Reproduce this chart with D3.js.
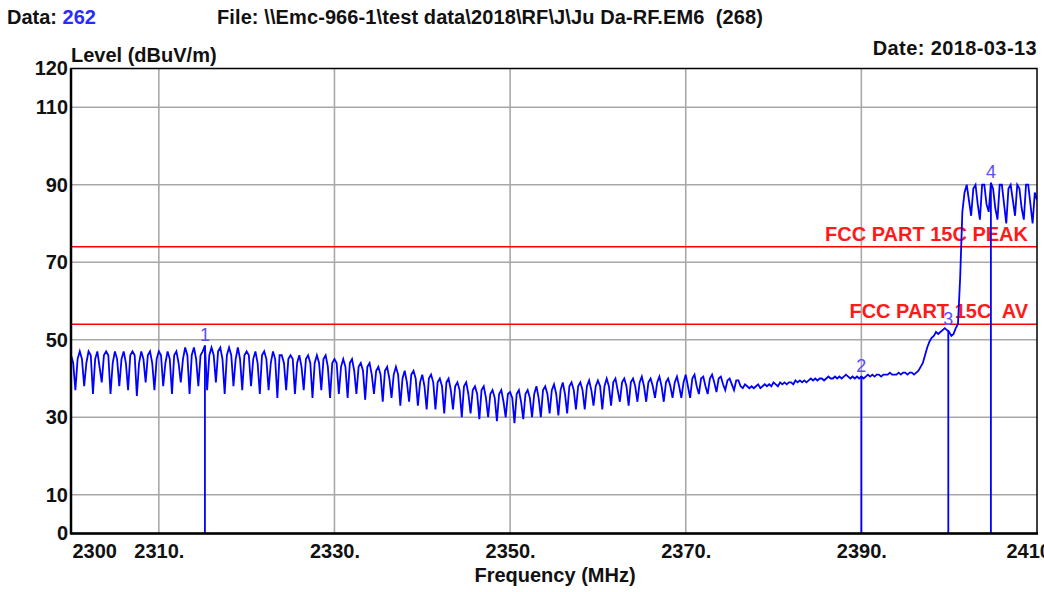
<!DOCTYPE html>
<html>
<head>
<meta charset="utf-8">
<script src="https://cdn.jsdelivr.net/npm/d3@7"></script>
<style>
  body { margin: 0; background: #fff; }
  svg { display: block; font-family: "Liberation Sans", Arial, sans-serif; }
  text { white-space: pre; }
</style>
</head>
<body>
<svg id="chart" width="1044" height="592"></svg>
<script>
// header texts
const dataCount = '262';
const fileName = 'File: \\\\Emc-966-1\\test data\\2018\\RF\\J\\Ju Da-RF.EM6  (268)';
const dateText = 'Date: 2018-03-13';
const yTitle = 'Level (dBuV/m)';
const xTitle = 'Frequency (MHz)';

// axes
const xTicks = [2300, 2310, 2330, 2350, 2370, 2390, 2410];
const yTicks = [0, 10, 30, 50, 70, 90, 110, 120];
const xGrid = [2310, 2330, 2350, 2370, 2390];
const yGrid = [10, 30, 50, 70, 90, 110];

// limit lines
const limitNames = ['FCC PART 15C PEAK', 'FCC PART 15C  AV'];
const limitLevels = [74, 54];

// markers
const markerNames = ['1', '2', '3', '4'];
const markerFreqs = [2315.25, 2390, 2399.9, 2404.75];
const markerLevels = [48.5, 40.5, 52.5, 90.5];

// trace, one row per MHz, 0.25 MHz apart, starting 2300 MHz
const startFreq = 2300;
const stepMHz = 0.25;
const levels = [
  46, 44, 37, 45,  47, 45, 38, 44,  47, 46, 36, 45,  47, 43, 39, 46,  47, 46, 36, 44,
  47, 45, 38, 45,  47, 44, 37, 46,  47, 46, 35.5, 44,  47, 45, 39, 46,  47, 44, 37, 45,
  47, 46, 38, 44,  47, 45, 36, 46,  47, 44, 39, 45,  48, 46, 36, 46,  48, 45, 38, 46,
  47, 48.5, 37, 46,  48, 46, 39, 47,  48, 45, 36, 46,  48, 46, 38, 45,  48, 45, 37, 46,
  47, 46, 38, 45,  47, 44, 36, 46,  47, 45, 37, 44,  47, 45, 35, 46,  46, 44, 37, 45,
  46, 45, 36, 44,  46, 43, 37, 45,  46, 44, 35, 44,  46, 44, 37, 45,  46, 43, 35, 44,
  45, 44, 36, 43,  45, 43, 35, 44,  45, 42, 36, 43,  44, 42, 34.5, 43,  44, 41, 36, 42,
  43, 41, 34, 42,  43, 40, 35, 41,  43, 41, 33, 40,  42, 39, 34, 41,  42, 40, 33, 39,
  41, 38, 32, 40,  41, 39, 32, 39,  40, 38, 31, 39,  40, 37, 32, 38,  39, 37, 30, 38,
  39, 36, 31, 37,  38, 36, 29.5, 37,  38, 35, 30, 36,  37, 35, 29, 36,  37, 34, 30, 36,
  36.5, 35, 28.5, 36,  37, 34, 29.5, 36,  37, 35, 30, 36,  38, 35, 30, 37,  38, 36, 31, 37,
  38.5, 36, 30.5, 37,  39, 36, 31, 38,  39, 37, 32, 38,  39, 37, 32, 38,  39.5, 37, 33, 38,
  39.5, 38, 32, 38,  40, 38, 33, 39,  40, 37, 34, 39,  40, 38, 33, 39,  40, 38, 34, 39,
  40.5, 38, 34, 39,  40, 38, 35, 39,  40.5, 38, 34, 39,  40, 38, 35, 39,  40.5, 38, 35, 39,
  41, 38, 35, 40,  41, 38, 36, 40,  40.5, 38, 36, 40,  41, 39, 36.5, 40,  40.5, 38.5, 37, 39.5,
  40, 38.5, 37, 39.5,  39.5, 38, 37.5, 38.5,  38, 37.5, 38, 37.5,  38, 38.5, 37.5, 38,  38.5, 38, 38.5, 38,
  39, 38.5, 38, 39,  38.5, 39, 38.5, 39,  39, 38.5, 39.5, 39,  39.5, 39, 39.5, 39,  39.5, 40, 39.5, 40,
  39.5, 40, 40, 39.5,  40, 40.5, 40, 40,  40.5, 40, 40.5, 40,  40.5, 41, 40.5, 40,  40.5, 40, 40.5, 40,
  40.5, 40, 40.5, 41,  40.5, 41, 40.5, 41,  41, 40.5, 41, 41,  41, 41.5, 41, 41,  41, 41.5, 41, 41.5,
  41.5, 41, 41.5, 41.5,  41, 41.5, 42, 43,  44, 46, 48, 49.5,  50.5, 51, 52, 51.5,  52, 52.5, 53, 52.5,
  52, 51, 51.5, 53,  54, 66, 83, 88,  90, 86, 82, 89,  90, 85, 81, 90,  90, 85, 83, 90.5,
  89, 84, 81, 90,  90, 85, 80, 89,  90, 86, 82, 90,  89, 84, 81, 90,  90, 85, 80, 88,
  86
];

let svg = d3.select('#chart');
let plotLeft = 71, plotRight = 1037, plotTop = 68.5, plotBottom = 533.5;

let x = d3.scaleLinear().domain([2300, 2410]).range([plotLeft, plotRight]);
let y = d3.scaleLinear().domain([0, 120]).range([plotBottom, plotTop]);

let font = '"Liberation Sans", Arial, sans-serif';
let fs = 20;

// header
let head = svg.append('text').attr('x', 7).attr('y', 24)
  .attr('font-size', fs).attr('font-weight', 'bold').attr('fill', '#111');
head.append('tspan').text('Data: ');
head.append('tspan').attr('fill', '#2b2bff').text(dataCount);

svg.append('text').attr('x', 217).attr('y', 24)
  .attr('font-size', fs).attr('font-weight', 'bold').attr('fill', '#111')
  .attr('letter-spacing', 0.1)
  .text(fileName);

svg.append('text').attr('x', 1037).attr('y', 55).attr('text-anchor', 'end')
  .attr('font-size', fs).attr('font-weight', 'bold').attr('fill', '#111')
  .attr('letter-spacing', 0.4)
  .text(dateText);

svg.append('text').attr('x', plotLeft).attr('y', 62)
  .attr('font-size', fs).attr('font-weight', 'bold').attr('fill', '#111')
  .text(yTitle);

svg.append('text').attr('x', (plotLeft + plotRight) / 2 + 1).attr('y', 582).attr('text-anchor', 'middle')
  .attr('font-size', fs).attr('font-weight', 'bold').attr('fill', '#111')
  .text(xTitle);

// grid
svg.append('g').selectAll('line').data(yGrid).enter().append('line')
  .attr('x1', plotLeft).attr('x2', plotRight)
  .attr('y1', d => y(d)).attr('y2', d => y(d))
  .attr('stroke', '#a8a8a8').attr('stroke-width', 1.6);
svg.append('g').selectAll('line').data(xGrid).enter().append('line')
  .attr('y1', plotTop).attr('y2', plotBottom)
  .attr('x1', d => x(d)).attr('x2', d => x(d))
  .attr('stroke', '#a8a8a8').attr('stroke-width', 1.6);

// limit lines
let limits = svg.append('g');
limitLevels.forEach((lv, i) => {
  limits.append('line').attr('x1', plotLeft).attr('x2', plotRight)
    .attr('y1', y(lv)).attr('y2', y(lv))
    .attr('stroke', '#ff0000').attr('stroke-width', 1.6);
  limits.append('text').attr('x', 1028).attr('y', y(lv) - 6).attr('text-anchor', 'end')
    .attr('font-size', fs).attr('font-weight', 'bold').attr('fill', '#ff1a1a')
    .text(limitNames[i]);
});

// trace
svg.append('clipPath').attr('id', 'plotclip').append('rect')
  .attr('x', plotLeft).attr('y', plotTop).attr('width', plotRight - plotLeft).attr('height', plotBottom - plotTop);

let line = d3.line()
  .x((d, i) => x(startFreq + i * stepMHz))
  .y(d => y(d));

svg.append('path').datum(levels)
  .attr('clip-path', 'url(#plotclip)')
  .attr('d', line)
  .attr('fill', 'none').attr('stroke', '#0000ff').attr('stroke-width', 1.8)
  .attr('stroke-linejoin', 'miter');

// markers
let markers = svg.append('g');
markerFreqs.forEach((f, i) => {
  markers.append('line').attr('x1', x(f)).attr('x2', x(f))
    .attr('y1', y(markerLevels[i])).attr('y2', plotBottom)
    .attr('stroke', '#0000ff').attr('stroke-width', 1.8);
  markers.append('text').attr('x', x(f)).attr('y', y(markerLevels[i]) - 5)
    .attr('text-anchor', 'middle').attr('font-size', 18).attr('fill', '#5a4cff')
    .text(markerNames[i]);
});

// frame
svg.append('rect').attr('x', plotLeft).attr('y', plotTop)
  .attr('width', plotRight - plotLeft).attr('height', plotBottom - plotTop)
  .attr('fill', 'none').attr('stroke', '#000').attr('stroke-width', 1.5);
svg.append('line').attr('x1', plotLeft).attr('x2', plotLeft).attr('y1', plotTop).attr('y2', plotBottom + 1)
  .attr('stroke', '#000').attr('stroke-width', 2.5);
svg.append('line').attr('x1', plotLeft).attr('x2', plotRight + 1).attr('y1', plotBottom).attr('y2', plotBottom)
  .attr('stroke', '#000').attr('stroke-width', 2.5);

// axes labels
let yAxis = d3.axisLeft(y).tickValues(yTicks).tickSize(0).tickPadding(3)
  .tickFormat(d => String(d));
svg.append('g').attr('transform', `translate(${plotLeft},0)`).call(yAxis)
  .call(g => g.select('.domain').remove())
  .call(g => g.selectAll('text').attr('font-size', fs).attr('font-weight', 'bold')
    .attr('font-family', font).attr('fill', '#111'));

let xAxis = d3.axisBottom(x).tickValues(xTicks).tickSize(0).tickPadding(10)
  .tickFormat(d => (d === 2300 || d === 2410) ? String(d) : d + '.');
svg.append('g').attr('transform', `translate(0,${plotBottom})`).call(xAxis)
  .call(g => g.select('.domain').remove())
  .call(g => g.selectAll('text').attr('font-size', fs).attr('font-weight', 'bold')
    .attr('font-family', font).attr('fill', '#111'))
  .call(g => g.selectAll('.tick text').filter(d => d === 2300)
    .attr('text-anchor', 'start').attr('dx', 1))
  .call(g => g.selectAll('.tick text').filter(d => d === 2410)
    .attr('text-anchor', 'start').attr('dx', -31));
</script>
</body>
</html>
